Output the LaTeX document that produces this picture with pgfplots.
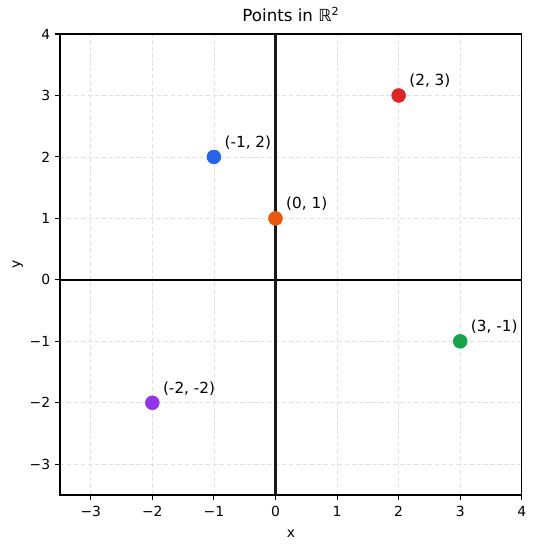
\documentclass[border=0pt]{standalone}
\usepackage{fontspec}
\setmainfont{DejaVu Sans}
\usepackage{pgfplots}
\pgfplotsset{compat=1.18}
\definecolor{cblue}{HTML}{2563EB}
\definecolor{corange}{HTML}{EA580C}
\definecolor{cred}{HTML}{DC2626}
\definecolor{cgreen}{HTML}{16A34A}
\definecolor{cpurple}{HTML}{9333EA}
\begin{document}
\begin{tikzpicture}
\begin{axis}[
  name=ax,
  scale only axis,
  width=332.6pt, height=332pt,
  xmin=-3.5, xmax=4, ymin=-3.5, ymax=4,
  xtick={-3,-2,-1,0,1,2,3,4},
  ytick={-3,-2,-1,0,1,2,3,4},
  xticklabels={−3,−2,−1,0,1,2,3,4},
  yticklabels={−3,−2,−1,0,1,2,3,4},
  tick align=outside,
  major tick length=3.5pt,
  tick style={black, line width=0.8pt},
  xtick pos=bottom, ytick pos=left,
  axis line style={line width=0.8pt},
  grid=major,
  grid style={dash pattern=on 3pt off 2pt, black!12, line width=0.6pt},
  ticklabel style={font=\fontsize{10pt}{12pt}\selectfont},
  xticklabel style={yshift=-1pt},
  xlabel={x}, ylabel={y},
  label style={font=\fontsize{10pt}{12pt}\selectfont},
  xlabel style={yshift=-3pt},
  ylabel style={yshift=-2pt},
  title={Points in ℝ\textsuperscript{2}},
  title style={font=\fontsize{12pt}{14pt}\selectfont, yshift=-1pt},
  clip=false,
]
\addplot[black, line width=1.3pt] coordinates {(-3.5,0) (4,0)};
\addplot[black!90, line width=1.5pt] coordinates {(0,-3.5) (0,4)};
\pgfplotsset{lbl/.style={only marks, mark=*, mark size=5pt,
  nodes near coords, point meta=explicit symbolic,
  nodes near coords style={anchor=base west, inner sep=0pt, xshift=7.5pt, yshift=7pt, black, font=\fontsize{11pt}{13pt}\selectfont}}}
\addplot[lbl, cblue, mark options={draw=cblue, fill=cblue}] coordinates {(-1,2) [(-1, 2)]};
\addplot[lbl, corange, mark options={draw=corange, fill=corange}] coordinates {(0,1) [(0, 1)]};
\addplot[lbl, cred, mark options={draw=cred, fill=cred}] coordinates {(2,3) [(2, 3)]};
\addplot[lbl, cgreen, mark options={draw=cgreen, fill=cgreen}] coordinates {(3,-1) [(3, -1)]};
\addplot[lbl, cpurple, mark options={draw=cpurple, fill=cpurple}] coordinates {(-2,-2) [(-2, -2)]};
\end{axis}
\path (ax.south west) ++(-43.2pt,-38.9pt);
\path (ax.north east) ++(10.1pt,24.5pt);
\end{tikzpicture}
\end{document}
